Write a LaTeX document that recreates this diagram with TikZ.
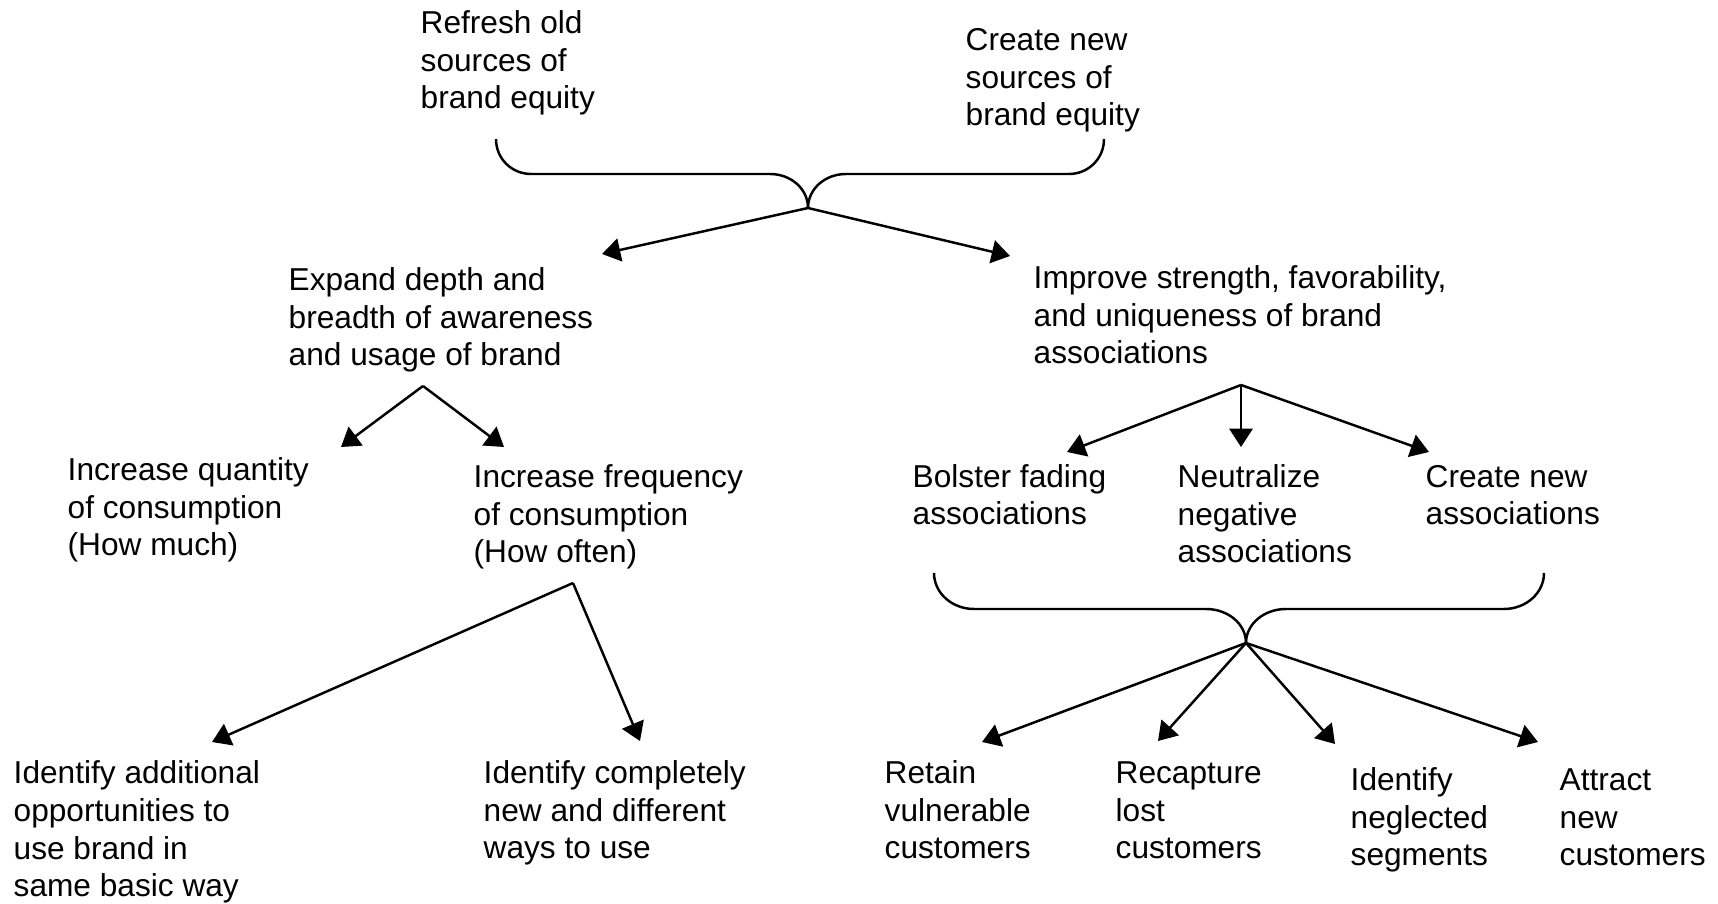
\documentclass[tikz,border=0pt]{standalone}
\usepackage{fontspec}
\setmainfont{Liberation Sans}
\usetikzlibrary{arrows.meta}
\definecolor{ink}{HTML}{000000}

\begin{document}
\begin{tikzpicture}[
  x=0.01cm, y=-0.01cm,
  >={Triangle[length=5.2pt, width=6.6pt]},
  goal/.style={anchor=base west, inner sep=0pt, align=left, font=\fontsize{9}{10.8}\selectfont, text=ink},
  arr/.style={->, line width=0.7pt, draw=ink},
  brace/.style={line width=0.7pt, draw=ink},
]
\useasboundingbox (0,0) rectangle (1718,904);

% sources of equity (placed at the baseline of the last line)
\node[goal] (refresh) at (420,109) {Refresh old\\sources of\\brand equity};
\node[goal] (newsrc) at (965,126) {Create new\\sources of\\brand equity};

% second level
\node[goal] (expand) at (288,366) {Expand depth and\\breadth of awareness\\and usage of brand};
\node[goal] (improve) at (1033,364) {Improve strength, favorability,\\and uniqueness of brand\\associations};

% third level
\node[goal] (quantity) at (67,556) {Increase quantity\\of consumption\\(How much)};
\node[goal] (frequency) at (473,563) {Increase frequency\\of consumption\\(How often)};
\node[goal] (bolster) at (912,525) {Bolster fading\\associations};
\node[goal] (neutral) at (1177,563) {Neutralize\\negative\\associations};
\node[goal] (newassoc) at (1425,525) {Create new\\associations};

% bottom level
\node[goal] (additional) at (13,897) {Identify additional\\opportunities to\\use brand in\\same basic way};
\node[goal] (different) at (483,859) {Identify completely\\new and different\\ways to use};
\node[goal] (retain) at (884,859) {Retain\\vulnerable\\customers};
\node[goal] (recapture) at (1115,859) {Recapture\\lost\\customers};
\node[goal] (neglected) at (1350,866) {Identify\\neglected\\segments};
\node[goal] (attract) at (1559,866) {Attract\\new\\customers};

% branch points
\coordinate (srcTip) at (808,208);
\coordinate (expTip) at (423,386);
\coordinate (impTip) at (1241,385);
\coordinate (freqTip) at (573,583);
\coordinate (assocTip) at (1246,643);

% arrow ends
\coordinate (expandIn) at (602,254);
\coordinate (improveIn) at (1010,256);
\coordinate (quantityIn) at (341,447);
\coordinate (frequencyIn) at (504,447);
\coordinate (bolsterIn) at (1067,452);
\coordinate (neutralIn) at (1241,447);
\coordinate (newassocIn) at (1429,452);
\coordinate (additionalIn) at (212,742);
\coordinate (differentIn) at (640,741);
\coordinate (retainIn) at (982,742);
\coordinate (recaptureIn) at (1158,741);
\coordinate (neglectedIn) at (1335,744);
\coordinate (attractIn) at (1538,742);

% braces
\draw[brace] (496,139) .. controls (496,159) and (512,174) .. (531,174) -- (770,174)
  .. controls (791,174) and (808,189) .. (srcTip);
\draw[brace] (srcTip) .. controls (808,189) and (825,174) .. (846,174) -- (1069,174)
  .. controls (1088,174) and (1104,159) .. (1104,139);
\draw[brace] (934,573) .. controls (934,593) and (952,609) .. (974,609) -- (1206,609)
  .. controls (1228,609) and (1246,624) .. (assocTip);
\draw[brace] (assocTip) .. controls (1246,624) and (1264,609) .. (1286,609) -- (1504,609)
  .. controls (1526,609) and (1544,593) .. (1544,573);

\draw[arr] (srcTip) -- (expandIn);
\draw[arr] (srcTip) -- (improveIn);
\draw[arr] (expTip) -- (quantityIn);
\draw[arr] (expTip) -- (frequencyIn);
\draw[arr] (impTip) -- (bolsterIn);
\draw[arr] (impTip) -- (neutralIn);
\draw[arr] (impTip) -- (newassocIn);
\draw[arr] (freqTip) -- (additionalIn);
\draw[arr] (freqTip) -- (differentIn);
\draw[arr] (assocTip) -- (retainIn);
\draw[arr] (assocTip) -- (recaptureIn);
\draw[arr] (assocTip) -- (neglectedIn);
\draw[arr] (assocTip) -- (attractIn);

\end{tikzpicture}
\end{document}
